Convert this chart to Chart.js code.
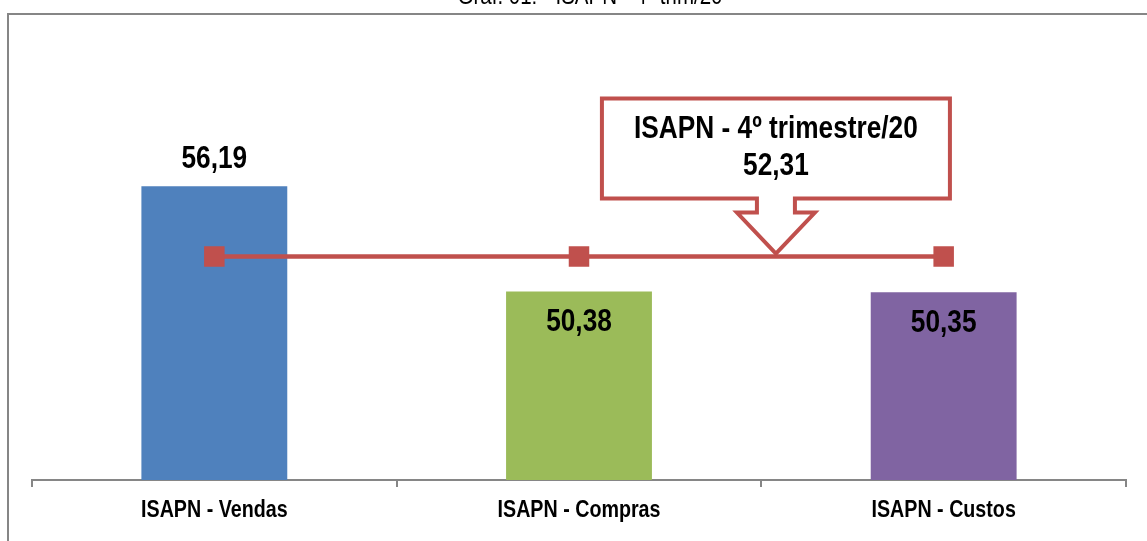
<!DOCTYPE html>
<html>
<head>
<meta charset="utf-8">
<script src="https://cdn.jsdelivr.net/npm/chart.js@4/dist/chart.umd.min.js"></script>
<style>
  html, body { margin: 0; padding: 0; background: #fff; }
  #wrap { position: relative; width: 1147px; height: 541px; }
</style>
</head>
<body>
<div id="wrap"><canvas id="chart" width="1147" height="541"></canvas></div>
<script>
// chart data
const categories = ['ISAPN - Vendas', 'ISAPN - Compras', 'ISAPN - Custos'];
const indexValues = [56.19, 50.38, 50.35];
const quarterValue = 52.31;
const quarterLine = [quarterValue, quarterValue, quarterValue];
const barColors = ['#4F81BD', '#9BBB59', '#8064A2'];
const chartTitle = 'Graf. 01: - ISAPN - 4º trim/20';
const calloutLines = ['ISAPN - 4º trimestre/20', '52,31'];

const FONT = "'Liberation Sans', Arial, sans-serif";
const NARROW = 0.82; // no Arial Narrow here, so squeeze the text sideways
const RED = '#C0504D';

const fmt = v => v.toFixed(2).replace('.', ',');

// draws centred text squeezed horizontally
function narrowText(ctx, text, x, y) {
  ctx.save();
  ctx.translate(x, y);
  ctx.scale(NARROW, 1);
  ctx.fillText(text, 0, 0);
  ctx.restore();
}

// frame + cut-off title at the top
const framePlugin = {
  id: 'frame',
  beforeDraw(chart) {
    const ctx = chart.ctx;
    ctx.save();
    ctx.strokeStyle = '#868686';
    ctx.lineWidth = 2;
    ctx.beginPath();
    ctx.moveTo(chart.width, 14);
    ctx.lineTo(8, 14);
    ctx.lineTo(8, chart.height);
    ctx.stroke();
    ctx.fillStyle = '#000';
    ctx.font = '25px ' + FONT;
    ctx.textAlign = 'center';
    ctx.textBaseline = 'alphabetic';
    narrowText(ctx, chartTitle, 590, 4);
    ctx.restore();
  }
};

// category labels under the axis
const catLabels = {
  id: 'catLabels',
  afterDraw(chart) {
    const ctx = chart.ctx;
    const x = chart.scales.x;
    ctx.save();
    ctx.font = 'bold 24px ' + FONT;
    ctx.fillStyle = '#000';
    ctx.textAlign = 'center';
    ctx.textBaseline = 'middle';
    categories.forEach((c, i) => narrowText(ctx, c, x.getPixelForTick(i), x.top + 30));
    ctx.restore();
  }
};

// value labels on the bars (first one above, others inside)
const barLabels = {
  id: 'barLabels',
  afterDatasetsDraw(chart) {
    const ctx = chart.ctx;
    const meta = chart.getDatasetMeta(1);
    ctx.save();
    ctx.font = 'bold 32px ' + FONT;
    ctx.fillStyle = '#000';
    ctx.textAlign = 'center';
    ctx.textBaseline = 'middle';
    meta.data.forEach((bar, i) => {
      const y = i === 0 ? bar.y - 27 : bar.y + 31;
      narrowText(ctx, fmt(indexValues[i]), bar.x, y);
    });
    ctx.restore();
  }
};

// down-arrow callout pointing at the quarter line
const callout = {
  id: 'callout',
  afterDatasetsDraw(chart) {
    const ctx = chart.ctx;
    const tx = chart.scales.x.getPixelForValue(1.54);
    const ty = chart.scales.y.getPixelForValue(quarterValue);
    ctx.save();
    ctx.beginPath();
    ctx.moveTo(tx - 174, ty - 158);
    ctx.lineTo(tx + 174, ty - 158);
    ctx.lineTo(tx + 174, ty - 58);
    ctx.lineTo(tx + 19, ty - 58);
    ctx.lineTo(tx + 19, ty - 44);
    ctx.lineTo(tx + 39, ty - 44);
    ctx.lineTo(tx, ty - 3);
    ctx.lineTo(tx - 39, ty - 44);
    ctx.lineTo(tx - 19, ty - 44);
    ctx.lineTo(tx - 19, ty - 58);
    ctx.lineTo(tx - 174, ty - 58);
    ctx.closePath();
    ctx.fillStyle = '#fff';
    ctx.fill();
    ctx.lineWidth = 4;
    ctx.lineJoin = 'miter';
    ctx.strokeStyle = RED;
    ctx.stroke();
    ctx.fillStyle = '#000';
    ctx.font = 'bold 32px ' + FONT;
    ctx.textAlign = 'center';
    ctx.textBaseline = 'middle';
    narrowText(ctx, calloutLines[0], tx, ty - 127);
    narrowText(ctx, calloutLines[1], tx, ty - 90);
    ctx.restore();
  }
};

new Chart(document.getElementById('chart'), {
  type: 'bar',
  data: {
    labels: categories,
    datasets: [
      {
        type: 'line',
        data: quarterLine,
        borderColor: RED,
        borderWidth: 4.5,
        pointStyle: 'rect',
        pointRadius: 14.5,
        pointBackgroundColor: RED,
        pointBorderColor: RED,
        pointBorderWidth: 0,
        order: 0
      },
      {
        data: indexValues,
        backgroundColor: barColors,
        barPercentage: 0.4,
        categoryPercentage: 1,
        order: 1
      }
    ]
  },
  options: {
    responsive: false,
    animation: false,
    layout: { padding: { top: 117, left: 32, right: 21, bottom: 0 } },
    plugins: { legend: { display: false }, tooltip: { enabled: false } },
    scales: {
      y: { display: false, min: 40, max: 60 },
      x: {
        afterFit: s => { s.height = 61; },
        border: { display: true, color: '#868686', width: 2 },
        grid: { offset: true, drawOnChartArea: false, drawTicks: true, tickLength: 7, color: '#868686', lineWidth: 2 },
        ticks: { color: 'rgba(0,0,0,0)', padding: 8, font: { family: FONT, size: 24, weight: 'bold' } }
      }
    }
  },
  plugins: [framePlugin, barLabels, callout, catLabels]
});
</script>
</body>
</html>
